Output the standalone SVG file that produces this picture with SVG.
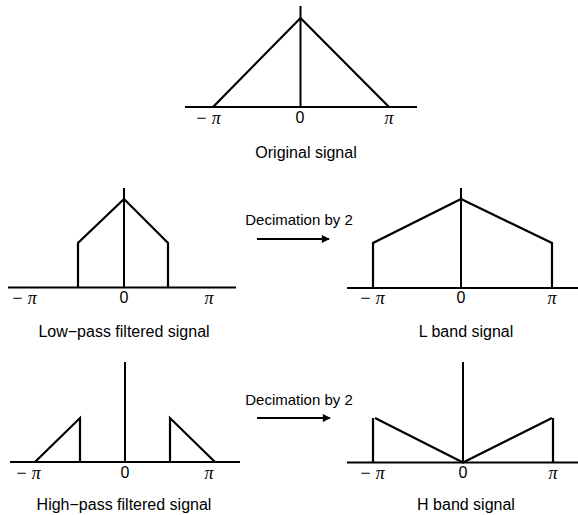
<svg xmlns="http://www.w3.org/2000/svg" width="578" height="515" viewBox="0 0 578 515">
<style>
.ax{stroke:#000;stroke-width:2;fill:none}
.sg{stroke:#000;stroke-width:2.2;fill:none;stroke-linejoin:miter}
.lb{font-family:"Liberation Sans",Arial,sans-serif;font-size:16px;fill:#000;text-anchor:middle}
.dc{font-family:"Liberation Sans",Arial,sans-serif;font-size:15px;fill:#000;text-anchor:middle}
.pi{font-family:"Liberation Serif","Times New Roman",serif;font-style:italic;font-size:18px;fill:#000;text-anchor:middle}
.zr{font-family:"Liberation Sans",Arial,sans-serif;font-size:16px;fill:#000;text-anchor:middle}
</style>
<defs>
<marker id="ah" viewBox="0 0 10 10" refX="9" refY="5" markerWidth="10" markerHeight="8" markerUnits="userSpaceOnUse" orient="auto">
<path d="M0,0 L10,5 L0,10 Z" fill="#000"/>
</marker>
</defs>
<rect width="578" height="515" fill="#fff"/>

<g id="original">
<line class="ax" x1="185" y1="107" x2="417" y2="107"/>
<line class="ax" x1="300.5" y1="6" x2="300.5" y2="107"/>
<polyline class="sg" points="213,107 300.5,18 389,107"/>
<text class="pi" x="208" y="124">− π</text>
<text class="zr" x="300" y="123">0</text>
<text class="pi" x="389" y="124">π</text>
<text class="lb" x="306" y="158">Original signal</text>
</g>

<g id="lowpass">
<line class="ax" x1="8" y1="287.5" x2="236" y2="287.5"/>
<line class="ax" x1="124" y1="188" x2="124" y2="287.5"/>
<polyline class="sg" points="78,287.5 78,243 124,199 168,243 168,287.5"/>
<text class="pi" x="24" y="304">− π</text>
<text class="zr" x="124" y="303">0</text>
<text class="pi" x="209" y="304">π</text>
<text class="lb" x="124" y="337">Low−pass filtered signal</text>
</g>

<g id="lband">
<line class="ax" x1="347" y1="288" x2="578" y2="288"/>
<line class="ax" x1="461" y1="188" x2="461" y2="288"/>
<polyline class="sg" points="373,288 373,243 461,199 552,243 552,288"/>
<text class="pi" x="372" y="304">− π</text>
<text class="zr" x="461" y="303">0</text>
<text class="pi" x="552" y="304">π</text>
<text class="lb" x="466" y="337">L band signal</text>
</g>

<g id="highpass">
<line class="ax" x1="10" y1="462" x2="240" y2="462"/>
<line class="ax" x1="125" y1="362" x2="125" y2="462"/>
<polyline class="sg" points="35,462 80,418 80,462"/>
<polyline class="sg" points="170,462 170,418 215,462"/>
<text class="pi" x="28" y="479">− π</text>
<text class="zr" x="125" y="478">0</text>
<text class="pi" x="209" y="479">π</text>
<text class="lb" x="124" y="510">High−pass filtered signal</text>
</g>

<g id="hband">
<line class="ax" x1="347" y1="462.5" x2="578" y2="462.5"/>
<line class="ax" x1="463" y1="362" x2="463" y2="462.5"/>
<line class="sg" x1="373" y1="418" x2="373" y2="462.5"/>
<polyline class="sg" points="375,418 463,462.5 552,418"/>
<line class="sg" x1="553" y1="418" x2="553" y2="462.5"/>
<text class="pi" x="372" y="479">− π</text>
<text class="zr" x="463" y="478">0</text>
<text class="pi" x="553" y="479">π</text>
<text class="lb" x="466" y="510">H band signal</text>
</g>

<g id="connectors">
<text class="dc" x="299" y="225">Decimation by 2</text>
<line class="ax" x1="257" y1="239" x2="329" y2="239" marker-end="url(#ah)"/>
<text class="dc" x="299" y="405">Decimation by 2</text>
<line class="ax" x1="257" y1="418" x2="330" y2="418" marker-end="url(#ah)"/>
</g>
</svg>
